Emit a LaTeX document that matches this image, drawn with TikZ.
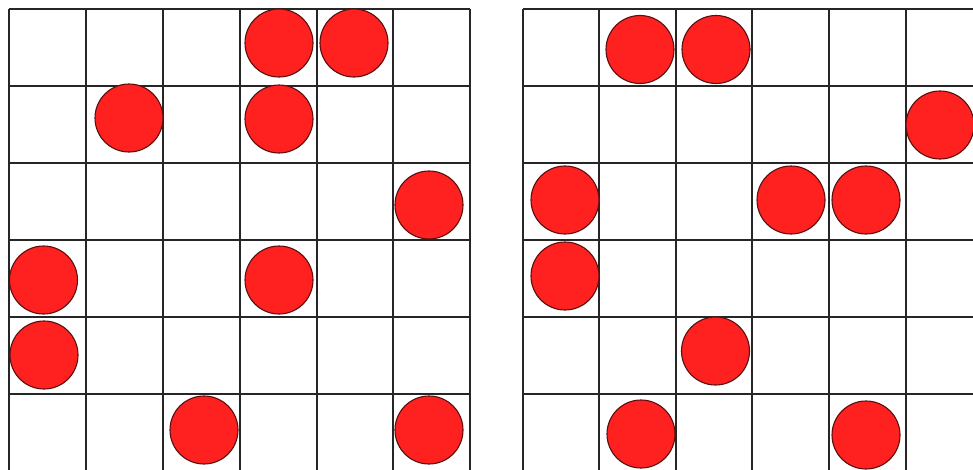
\documentclass[tikz,border=0pt]{standalone}
\begin{document}
\begin{tikzpicture}[x=1pt,y=-1pt,
  gridline/.style={draw=black!85, line width=1.8pt},
  disc/.style={fill={rgb,255:red,255;green,32;blue,32}, draw={rgb,255:red,90;green,15;blue,15}, line width=1.1pt}]
\useasboundingbox (0,0) rectangle (973,469);
\clip (0,0) rectangle (973,469);
\fill[white] (0,0) rectangle (973,469);
% left grid
\foreach \x in {9,86,163,240,317,393,470} \draw[gridline] (\x,9) -- (\x,480);
\foreach \y in {9,86,163,240,317,394,471} \draw[gridline] (9,\y) -- (470,\y);
% right grid
\foreach \x in {523,599,676,752,829,906,983} \draw[gridline] (\x,9) -- (\x,480);
\foreach \y in {9,86,163,240,317,394,471} \draw[gridline] (523,\y) -- (990,\y);
% left discs
\foreach \p in {(279,43),(354,43),(129,118),(279,119),(429,205),(43.5,280),(279,280),(44,355),(204,430),(429,430)}
  \draw[disc] \p circle (34);
% right discs
\foreach \p in {(640,49.5),(716,49.5),(940,125),(565,200),(791,200),(866,200),(565,276),(715.5,351),(641,434),(866,435)}
  \draw[disc] \p circle (34);
\end{tikzpicture}
\end{document}
